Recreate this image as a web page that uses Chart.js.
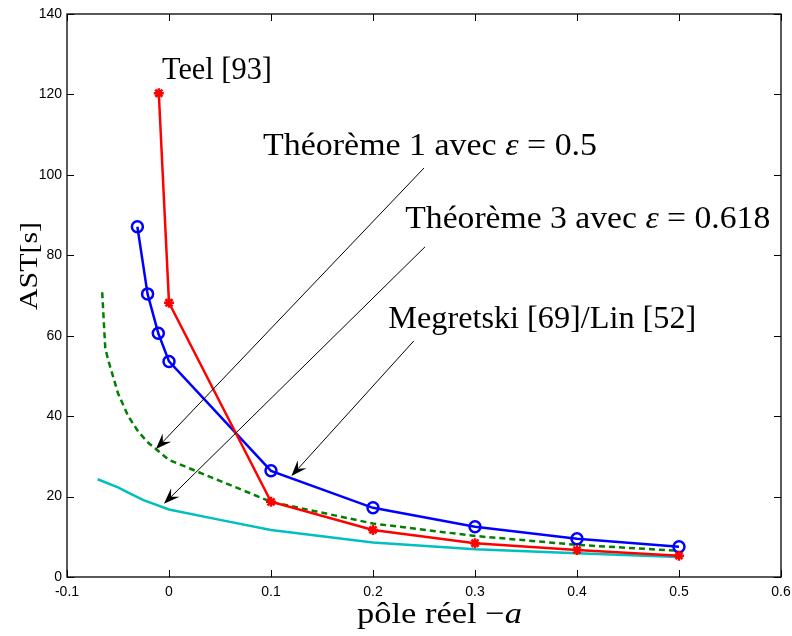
<!DOCTYPE html>
<html><head><meta charset="utf-8">
<script src="https://cdn.jsdelivr.net/npm/chart.js@4.4.0/dist/chart.umd.min.js"></script>
<style>html,body{margin:0;padding:0;background:#fff}canvas{display:block}</style>
</head><body>
<canvas id="c" width="792" height="636"></canvas>
<script>
// ---- data ----
const xTicks = [-0.1, 0, 0.1, 0.2, 0.3, 0.4, 0.5, 0.6];
const yTicks = [0, 20, 40, 60, 80, 100, 120, 140];

const teelX = [-0.01, 0, 0.1, 0.2, 0.3, 0.4, 0.5];
const teelY = [120.3, 68.2, 18.7, 11.7, 8.4, 6.7, 5.3];

const megX = [-0.031, -0.021, -0.0105, 0, 0.1, 0.2, 0.3, 0.4, 0.5];
const megY = [87.1, 70.4, 60.6, 53.6, 26.4, 17.2, 12.5, 9.5, 7.5];

const th1X = [-0.0655, -0.0625, -0.06, -0.05, -0.04, -0.03, -0.02, -0.01, 0, 0.1, 0.2, 0.3, 0.4, 0.5];
const th1Y = [70.8, 57.0, 54.3, 45.7, 40.0, 36.1, 33.3, 31.2, 29.1, 18.7, 13.3, 10.2, 8.0, 6.5];

const th3X = [-0.07, -0.05, -0.04, -0.025, 0, 0.05, 0.1, 0.2, 0.3, 0.4, 0.5];
const th3Y = [24.3, 22.3, 21.0, 19.1, 16.8, 14.2, 11.7, 8.6, 6.9, 5.9, 5.0];

const zip = (xs, ys) => xs.map((x, i) => ({x: x, y: ys[i]}));

// annotations (data coordinates)
const labels = [
  {runs: [['Teel [93]', false]], x: -0.0069, y: 123.9, w: 110},
  {runs: [['Théorème 1 avec ', false], ['ε', true], [' = 0.5', false]], x: 0.0922, y: 105.0, w: 334},
  {runs: [['Théorème 3 avec ', false], ['ε', true], [' = 0.618', false]], x: 0.2316, y: 86.8, w: 365},
  {runs: [['Megretski [69]/Lin [52]', false]], x: 0.215, y: 61.9, w: 308}
];
const arrows = [
  {x0: 0.250, y0: 101.7, x1: -0.0128, y1: 31.8},
  {x0: 0.251, y0: 82.1, x1: -0.005, y1: 18.2},
  {x0: 0.240, y0: 58.7, x1: 0.120, y1: 25.1}
];

const SERIF = '"Liberation Serif", "Times New Roman", serif';

function drawRuns(ctx, runs, x, y, size, targetW) {
  let w = 0;
  runs.forEach(r => { ctx.font = (r[1] ? 'italic ' : '') + size + 'px ' + SERIF; w += ctx.measureText(r[0]).width; });
  const sx = targetW ? targetW / w : 1;
  ctx.save();
  ctx.translate(x, y);
  ctx.scale(sx, 1);
  let cx = 0;
  ctx.textBaseline = 'alphabetic';
  ctx.textAlign = 'left';
  runs.forEach(r => {
    ctx.font = (r[1] ? 'italic ' : '') + size + 'px ' + SERIF;
    ctx.fillText(r[0], cx, 0);
    cx += ctx.measureText(r[0]).width;
  });
  ctx.restore();
}

const deco = {
  id: 'deco',
  afterDraw(chart) {
    const ctx = chart.ctx, a = chart.chartArea;
    const xs = chart.scales.x, ys = chart.scales.y;
    ctx.save();
    ctx.strokeStyle = '#000';
    ctx.lineWidth = 1.3;
    ctx.strokeRect(a.left, a.top, a.right - a.left, a.bottom - a.top);
    ctx.lineWidth = 1;
    const T = 7;
    ctx.beginPath();
    xTicks.forEach(v => {
      const p = Math.round(xs.getPixelForValue(v)) + 0.5;
      ctx.moveTo(p, a.bottom); ctx.lineTo(p, a.bottom - T);
      ctx.moveTo(p, a.top); ctx.lineTo(p, a.top + T);
    });
    yTicks.forEach(v => {
      const p = Math.round(ys.getPixelForValue(v)) + 0.5;
      ctx.moveTo(a.left, p); ctx.lineTo(a.left + T, p);
      ctx.moveTo(a.right, p); ctx.lineTo(a.right - T, p);
    });
    ctx.stroke();

    // arrows
    ctx.fillStyle = '#000';
    arrows.forEach(ar => {
      const x0 = xs.getPixelForValue(ar.x0), y0 = ys.getPixelForValue(ar.y0);
      const x1 = xs.getPixelForValue(ar.x1), y1 = ys.getPixelForValue(ar.y1);
      const ang = Math.atan2(y1 - y0, x1 - x0);
      const L = 16, H = 6, I = 10;
      ctx.beginPath();
      ctx.moveTo(x0, y0);
      ctx.lineTo(x1 - Math.cos(ang) * I, y1 - Math.sin(ang) * I);
      ctx.stroke();
      ctx.save();
      ctx.translate(x1, y1);
      ctx.rotate(ang);
      ctx.beginPath();
      ctx.moveTo(0, 0);
      ctx.lineTo(-L, -H);
      ctx.lineTo(-I, 0);
      ctx.lineTo(-L, H);
      ctx.closePath();
      ctx.fill();
      ctx.restore();
    });

    // text labels
    labels.forEach(l => {
      drawRuns(ctx, l.runs, xs.getPixelForValue(l.x), ys.getPixelForValue(l.y), 31, l.w);
    });

    // axis titles
    drawRuns(ctx, [['pôle réel ', false], ['\u2212', false], ['a', true]], 357, 623, 30, 165);
    ctx.save();
    ctx.translate(37, 310);
    ctx.rotate(-Math.PI / 2);
    drawRuns(ctx, [['AST[s]', false]], 0, 0, 26, 88);
    ctx.restore();
    ctx.restore();
  }
};

const tickFont = {family: '"Liberation Sans", Arial, sans-serif', size: 14};

new Chart(document.getElementById('c'), {
  type: 'scatter',
  data: {
    datasets: [
      {label: 'Teel [93]', data: zip(teelX, teelY), showLine: true, borderColor: '#ff0000', backgroundColor: '#ff0000',
       borderWidth: 2.5, pointStyle: 'star', pointRadius: 5, pointBorderWidth: 2.5, order: 1},
      {label: 'Megretski [69]/Lin [52]', data: zip(megX, megY), showLine: true, borderColor: '#0000ff', backgroundColor: 'rgba(0,0,0,0)',
       borderWidth: 2.5, pointStyle: 'circle', pointRadius: 5.5, pointBorderWidth: 2.5, order: 2},
      {label: 'Théorème 1', data: zip(th1X, th1Y), showLine: true, borderColor: '#008000', borderWidth: 2.5,
       borderDash: [6, 4], pointRadius: 0, order: 3},
      {label: 'Théorème 3', data: zip(th3X, th3Y), showLine: true, borderColor: '#00bfbf', borderWidth: 2.5,
       pointRadius: 0, order: 4}
    ]
  },
  options: {
    responsive: false,
    animation: false,
    devicePixelRatio: 1,
    layout: {padding: {top: 14, right: 11, left: 0, bottom: 0}},
    plugins: {legend: {display: false}, tooltip: {enabled: false}},
    scales: {
      x: {
        type: 'linear', min: -0.1, max: 0.6,
        afterBuildTicks: s => { s.ticks = xTicks.map(v => ({value: v})); },
        afterFit: s => { s.height = 59; s.paddingLeft = 0; s.paddingRight = 0; },
        grid: {display: false, drawTicks: false},
        border: {display: false},
        ticks: {font: tickFont, color: '#000', padding: 7, maxRotation: 0, autoSkip: false,
                callback: v => String(Math.round(v * 10) / 10)}
      },
      y: {
        type: 'linear', min: 0, max: 140,
        afterBuildTicks: s => { s.ticks = yTicks.map(v => ({value: v})); },
        afterFit: s => { s.width = 67; s.paddingTop = 0; s.paddingBottom = 0; },
        grid: {display: false, drawTicks: false},
        border: {display: false},
        ticks: {font: tickFont, color: '#000', padding: 5, autoSkip: false,
                callback: v => String(v)}
      }
    }
  },
  plugins: [deco]
});
</script>
</body></html>
